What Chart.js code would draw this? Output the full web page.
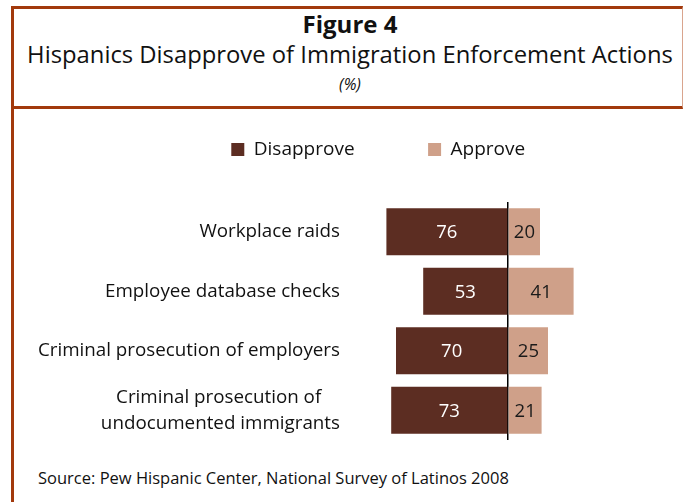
<!DOCTYPE html>
<html>
<head>
<meta charset="utf-8">
<script src="https://cdn.jsdelivr.net/npm/chart.js@4.4.1/dist/chart.umd.min.js"></script>
<style>
  html, body { margin: 0; padding: 0; background: #ffffff; }
  #wrap { position: relative; width: 684px; height: 502px; overflow: hidden; background: #fff; font-family: "Open Sans", sans-serif; }
  #box { position: absolute; left: 11px; top: 6px; width: 668px; height: 97px;
         border-top: 3px solid #A2390C; border-left: 3px solid #A2390C; border-bottom: 3px solid #A2390C;
         border-right: 1px solid #D9A58E; }
  #leftline { position: absolute; left: 11px; top: 109px; width: 3px; height: 393px; background: #A2390C; }
  .t { position: absolute; left: 0; width: 700px; text-align: center; line-height: 1; white-space: nowrap; color: #111; }
  #fig { top: 12px; font-weight: 700; font-size: 24px; }
  #sub { top: 43px; font-size: 23.8px; }
  #pct { top: 76px; font-size: 16px; font-style: italic; }
  #src { position: absolute; left: 38px; top: 469.5px; font-size: 16.5px; line-height: 1; color: #111; white-space: nowrap; }
  canvas { position: absolute; left: 0; top: 0; }
</style>
</head>
<body>
<div id="wrap">
  <div id="box"></div>
  <div id="leftline"></div>
  <div class="t" id="fig">Figure 4</div>
  <div class="t" id="sub">Hispanics Disapprove of Immigration Enforcement Actions</div>
  <div class="t" id="pct">(%)</div>
  <div id="src">Source: Pew Hispanic Center, National Survey of Latinos 2008</div>
  <canvas id="c" width="684" height="502"></canvas>
</div>
<script>
// ---- data ----
const categories = [
  "Workplace raids",
  "Employee database checks",
  "Criminal prosecution of employers",
  ["Criminal prosecution of", "undocumented immigrants"]
];
const seriesNames = ["Disapprove", "Approve"];
const disapprove = [76, 53, 70, 73];
const approve = [20, 41, 25, 21];

// ---- styles ----
const FONT = "Open Sans";
const DIS_COLOR = "#5C2D22";
const APP_COLOR = "#CFA089";
const TICK_FONT_SIZE = 18.8;

const mctx = document.createElement("canvas").getContext("2d");
function textWidth(s, size) { mctx.font = size + "px '" + FONT + "'"; return mctx.measureText(s).width; }
// centre the lines of a multi-line label on each other (the block stays right-aligned)
function centredLines(lines, size) {
  const widths = lines.map(l => textWidth(l, size));
  const max = Math.max(...widths);
  const space = textWidth("\u2002", size) || size / 2;
  return lines.map((l, i) => l + "\u2002".repeat(Math.round(((max - widths[i]) / 2) / space)));
}

const barLabels = {
  id: "barLabels",
  afterDatasetsDraw(chart) {
    const ctx = chart.ctx;
    ctx.save();
    ctx.font = "18.5px '" + FONT + "'";
    ctx.textAlign = "center";
    ctx.textBaseline = "middle";
    chart.data.datasets.forEach((ds, di) => {
      const meta = chart.getDatasetMeta(di);
      meta.data.forEach((el, i) => {
        const v = Math.abs(ds.data[i]);
        ctx.fillStyle = di === 0 ? "#ffffff" : "#1a1a1a";
        ctx.fillText(String(v), (el.x + el.base) / 2, el.y + 1);
      });
    });
    ctx.restore();
  }
};

const legendGap = {
  id: "legendGap",
  beforeInit(chart) {
    const fit = chart.legend.fit;
    chart.legend.fit = function () { fit.call(this); this.height += 33; };
  }
};

new Chart(document.getElementById("c"), {
  type: "bar",
  data: {
    labels: categories,
    datasets: [
      { label: seriesNames[0], data: disapprove.map(v => -v), backgroundColor: DIS_COLOR, borderWidth: 0 },
      { label: seriesNames[1], data: approve, backgroundColor: APP_COLOR, borderWidth: 0 }
    ]
  },
  options: {
    indexAxis: "y",
    responsive: false,
    animation: false,
    devicePixelRatio: 1,
    layout: { padding: { left: 72.5, right: 0, top: 66.5, bottom: 62 } },
    datasets: { bar: { categoryPercentage: 1, barPercentage: 0.79 } },
    plugins: {
      legend: {
        display: true,
        position: "top",
        align: "center",
        labels: {
          boxWidth: 13, boxHeight: 13, padding: 73.5,
          color: "#111",
          font: { family: FONT, size: 19 }
        }
      },
      tooltip: { enabled: false },
      title: { display: false }
    },
    scales: {
      x: {
        stacked: true,
        min: -85, max: 110,
        afterFit(s) { s.height = 0; },
        ticks: { display: false, stepSize: 5 },
        border: { display: false },
        grid: {
          drawTicks: false,
          lineWidth: 1.5,
          color: c => (c.tick && c.tick.value === 0 ? "#000000" : "rgba(0,0,0,0)")
        }
      },
      y: {
        stacked: true,
        afterFit(s) {
          s.width = 372 - 72.5;
          s._computeLabelArea = () => undefined; // let labels extend past the axis box
        },
        border: { display: false },
        grid: { display: false, drawTicks: false },
        ticks: {
          autoSkip: false,
          padding: 32,
          color: "#111",
          font: { family: FONT, size: TICK_FONT_SIZE, lineHeight: 1.38 },
          callback(value, index) {
            const l = categories[index];
            return Array.isArray(l) ? centredLines(l, TICK_FONT_SIZE) : l;
          }
        }
      }
    }
  },
  plugins: [barLabels, legendGap]
});
</script>
</body>
</html>
